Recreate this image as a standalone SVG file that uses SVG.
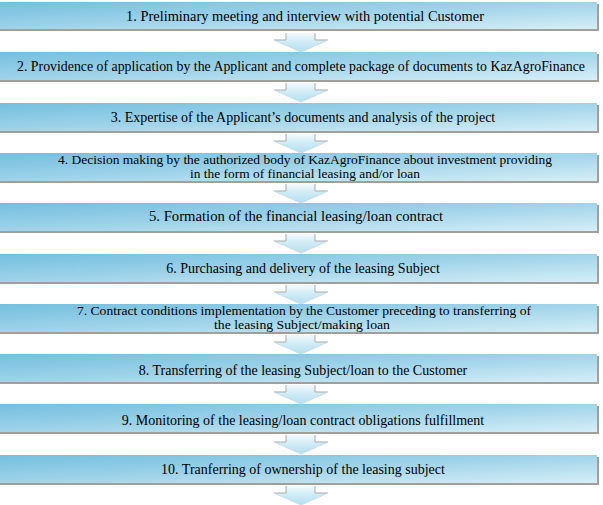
<svg xmlns="http://www.w3.org/2000/svg" width="603" height="505" viewBox="0 0 603 505">
<defs>
<linearGradient id="boxg" x1="0" y1="0" x2="1" y2="1">
<stop offset="0" stop-color="#74bfdf"/>
<stop offset="0.45" stop-color="#9bd1e8"/>
<stop offset="1" stop-color="#d6eef7"/>
</linearGradient>
<linearGradient id="arrg" x1="0" y1="0" x2="0" y2="1">
<stop offset="0" stop-color="#f4fafd"/>
<stop offset="0.4" stop-color="#d4edf7"/>
<stop offset="1" stop-color="#b4def0"/>
</linearGradient>
<symbol id="arrow" overflow="visible">
<path d="M286,0 H315 V7 H328 L301,19 L274,7 H286 Z" fill="url(#arrg)"/>
<path d="M274,7 H286 V0 M315,0 V7 H328" fill="none" stroke="#a9a9a9" stroke-width="1"/>
<path d="M274,7 L301,19 L328,7" fill="none" stroke="#c8dde6" stroke-width="1"/>
</symbol>
</defs>
<style>
.box{fill:url(#boxg)}
.sh{fill:#a29e98}
text{font-family:"Liberation Serif","Times New Roman","DejaVu Serif",serif;font-size:14px;fill:#000;text-anchor:middle}
.s{font-size:12.5px}
</style>
<g id="connectors">
<use href="#arrow" x="0" y="33"/>
<use href="#arrow" x="0" y="83"/>
<use href="#arrow" x="0" y="134"/>
<use href="#arrow" x="0" y="184"/>
<use href="#arrow" x="0" y="234"/>
<use href="#arrow" x="0" y="285"/>
<use href="#arrow" x="0" y="335"/>
<use href="#arrow" x="0" y="385"/>
<use href="#arrow" x="0" y="435"/>
<use href="#arrow" x="0" y="486"/>
</g>
<g id="n1"><rect class="sh" x="0" y="29" width="599" height="2"/><rect class="sh" x="597" y="4" width="2" height="27"/><rect class="box" x="0" y="2" width="597" height="27"/><text x="305" y="21" textLength="358" lengthAdjust="spacingAndGlyphs">1. Preliminary meeting and interview with potential Customer</text></g>
<g id="n2"><rect class="sh" x="0" y="80" width="599" height="2"/><rect class="sh" x="597" y="54" width="2" height="28"/><rect class="box" x="0" y="52" width="597" height="28"/><text x="301" y="71" textLength="568" lengthAdjust="spacingAndGlyphs">2. Providence of application by the Applicant and complete package of documents to KazAgroFinance</text></g>
<g id="n3"><rect class="sh" x="0" y="131" width="599" height="2"/><rect class="sh" x="597" y="105" width="2" height="28"/><rect class="box" x="0" y="103" width="597" height="28"/><text x="303" y="122">3. Expertise of the Applicant’s documents and analysis of the project</text></g>
<g id="n4"><rect class="sh" x="0" y="181" width="599" height="2"/><rect class="sh" x="597" y="155" width="2" height="28"/><rect class="box" x="0" y="153" width="597" height="28"/><text class="s" x="305" y="164" textLength="494" lengthAdjust="spacingAndGlyphs">4. Decision making by the authorized body of KazAgroFinance about investment providing</text><text class="s" x="305" y="178" textLength="230" lengthAdjust="spacingAndGlyphs">in the form of financial leasing and/or loan</text></g>
<g id="n5"><rect class="sh" x="0" y="231" width="599" height="2"/><rect class="sh" x="597" y="205" width="2" height="28"/><rect class="box" x="0" y="203" width="597" height="28"/><text x="296" y="221" textLength="294" lengthAdjust="spacingAndGlyphs">5. Formation of the financial leasing/loan contract</text></g>
<g id="n6"><rect class="sh" x="0" y="282" width="599" height="2"/><rect class="sh" x="597" y="256" width="2" height="28"/><rect class="box" x="0" y="254" width="597" height="28"/><text x="303" y="273">6. Purchasing and delivery of the leasing Subject</text></g>
<g id="n7"><rect class="sh" x="0" y="332" width="599" height="2"/><rect class="sh" x="597" y="306" width="2" height="28"/><rect class="box" x="0" y="304" width="597" height="28"/><text class="s" x="304" y="315" textLength="454" lengthAdjust="spacingAndGlyphs">7. Contract conditions implementation by the Customer preceding to transferring of</text><text class="s" x="302" y="329" textLength="176" lengthAdjust="spacingAndGlyphs">the leasing Subject/making loan</text></g>
<g id="n8"><rect class="sh" x="0" y="382" width="599" height="2"/><rect class="sh" x="597" y="356" width="2" height="28"/><rect class="box" x="0" y="354" width="597" height="28"/><text x="303" y="375">8. Transferring of the leasing Subject/loan to the Customer</text></g>
<g id="n9"><rect class="sh" x="0" y="432" width="599" height="2"/><rect class="sh" x="597" y="406" width="2" height="28"/><rect class="box" x="0" y="404" width="597" height="28"/><text x="303" y="425">9. Monitoring of the leasing/loan contract obligations fulfillment</text></g>
<g id="n10"><rect class="sh" x="0" y="483" width="599" height="2"/><rect class="sh" x="597" y="457" width="2" height="28"/><rect class="box" x="0" y="455" width="597" height="28"/><text x="303" y="474">10. Tranferring of ownership of the leasing subject</text></g>
</svg>
